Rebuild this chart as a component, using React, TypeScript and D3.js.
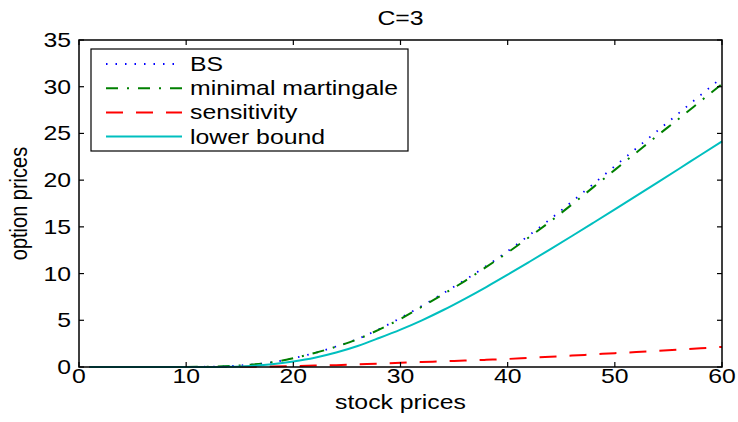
import React from "react";
import { scaleLinear, line, curveMonotoneX } from "d3";

// stock prices (x) and the four price curves
const stock = [1, 5, 10, 12, 14, 16, 18, 20, 22, 24, 26, 28, 30, 32, 34, 36, 38, 40, 42, 44, 46, 48, 50, 52, 54, 56, 58, 60];
const bs = [0, 0, 0.01, 0.03, 0.1, 0.25, 0.5, 0.95, 1.5, 2.2, 3.0, 4.05, 5.25, 6.55, 7.9, 9.3, 10.8, 12.4, 14.1, 15.85, 17.7, 19.6, 21.5, 23.4, 25.3, 27.2, 29.1, 31.0];
const minimalMartingale = [0, 0, 0.01, 0.03, 0.1, 0.25, 0.5, 0.95, 1.5, 2.18, 2.98, 4.0, 5.15, 6.45, 7.8, 9.2, 10.7, 12.25, 13.9, 15.6, 17.4, 19.25, 21.1, 22.95, 24.8, 26.6, 28.45, 30.3];
const sensitivity = [0, 0, 0, 0, 0.01, 0.03, 0.06, 0.1, 0.15, 0.2, 0.28, 0.36, 0.45, 0.53, 0.61, 0.69, 0.77, 0.86, 0.98, 1.1, 1.22, 1.35, 1.48, 1.6, 1.73, 1.86, 2.0, 2.15];
const lowerBound = [0, 0, 0, 0, 0.03, 0.12, 0.3, 0.6, 1.0, 1.55, 2.25, 3.1, 4.0, 5.0, 6.1, 7.3, 8.56, 9.88, 11.24, 12.62, 14.02, 15.44, 16.87, 18.31, 19.76, 21.22, 22.69, 24.15];

const xTicks = [0, 10, 20, 30, 40, 50, 60];
const yTicks = [0, 5, 10, 15, 20, 25, 30, 35];

const series = [
  { name: "BS", values: bs, color: "#0000ff", dash: "1.5,8", width: 1.8 },
  { name: "minimal martingale", values: minimalMartingale, color: "#008000", dash: "12,9,2,9", width: 2 },
  { name: "sensitivity", values: sensitivity, color: "#ff0000", dash: "17,13", width: 2 },
  { name: "lower bound", values: lowerBound, color: "#00bfbf", dash: "none", width: 2 },
];

const SX = 1.24; // the picture is stretched horizontally

function T({ x, y, anchor = "start", children }: any) {
  return (
    <text transform={`translate(${x},${y}) scale(${SX},1)`} textAnchor={anchor}>
      {children}
    </text>
  );
}

export default function App() {
  const width = 738;
  const height = 422;
  const left = 79, right = 722, top = 40, bottom = 367;

  const x = scaleLinear().domain([0, 60]).range([left, right]);
  const y = scaleLinear().domain([0, 35]).range([bottom, top]);

  const path = (vals: number[]) =>
    line<number>()
      .x((_, i) => x(stock[i]))
      .y((d) => y(d))
      .curve(curveMonotoneX)(vals) as string;

  const tick = 5;

  return (
    <svg
      width={width}
      height={height}
      style={{ position: "absolute", left: 0, top: 0, background: "#fff" }}
      fontFamily="'Liberation Sans', Arial, sans-serif"
      fontSize={20}
    >
      <rect width={width} height={height} fill="#fff" />
      <T x={(left + right) / 2} y={25} anchor="middle">C=3</T>

      {/* curves */}
      <g fill="none">
        {series.map((s) => (
          <path
            key={s.name}
            d={path(s.values)}
            stroke={s.color}
            strokeWidth={s.width}
            strokeDasharray={s.dash}
          />
        ))}
      </g>

      {/* box + ticks */}
      <rect x={left} y={top} width={right - left} height={bottom - top} fill="none" stroke="#000" strokeWidth={1.5} />
      {xTicks.map((d) => (
        <g key={"x" + d}>
          <line x1={x(d)} x2={x(d)} y1={bottom} y2={bottom - tick} stroke="#000" strokeWidth={1.2} />
          <line x1={x(d)} x2={x(d)} y1={top} y2={top + tick} stroke="#000" strokeWidth={1.2} />
          <T x={x(d)} y={bottom + 16} anchor="middle">{d}</T>
        </g>
      ))}
      {yTicks.map((d) => (
        <g key={"y" + d}>
          <line x1={left} x2={left + tick} y1={y(d)} y2={y(d)} stroke="#000" strokeWidth={1.2} />
          <line x1={right} x2={right - tick} y1={y(d)} y2={y(d)} stroke="#000" strokeWidth={1.2} />
          <T x={71} y={y(d) + 7} anchor="end">{d}</T>
        </g>
      ))}

      <T x={(left + right) / 2} y={409} anchor="middle">stock prices</T>
      <text
        transform={`translate(27,${(top + bottom) / 2}) rotate(-90) scale(1,${SX})`}
        textAnchor="middle"
      >
        option prices
      </text>

      {/* legend */}
      <rect x={91} y={49} width={317} height={102} fill="#fff" stroke="#000" strokeWidth={1.2} />
      {series.map((s, i) => {
        const cy = 64 + i * 24.2;
        return (
          <g key={"l" + s.name}>
            <line x1={106} x2={182} y1={cy} y2={cy} stroke={s.color} strokeWidth={s.width} strokeDasharray={s.dash} />
            <T x={190} y={cy + 7}>{s.name}</T>
          </g>
        );
      })}
    </svg>
  );
}
